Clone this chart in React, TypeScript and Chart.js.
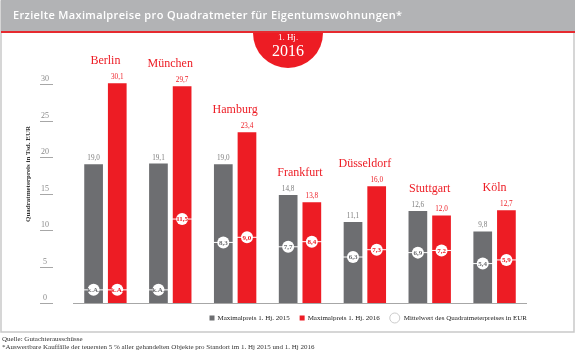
import React, { useEffect, useRef } from "react";
import { Chart, registerables } from "chart.js";

Chart.register(...registerables);

const cities = ["Berlin", "München", "Hamburg", "Frankfurt", "Düsseldorf", "Stuttgart", "Köln"];
const max2015: number[] = [19.0, 19.1, 19.0, 14.8, 11.1, 12.6, 9.8];
const max2016: number[] = [30.1, 29.7, 23.4, 13.8, 16.0, 12.0, 12.7];
const mean2015: (number | null)[] = [null, null, 8.3, 7.7, 6.3, 6.9, 5.4];
const mean2016: (number | null)[] = [null, 11.5, 9.0, 8.4, 7.3, 7.2, 5.9];
const yTicks: number[] = [0, 5, 10, 15, 20, 25, 30];
const seriesLabels = ["Maximalpreis 1. Hj. 2015", "Maximalpreis 1. Hj. 2016"];
const meanLabel = "Mittelwert des Quadratmeterpreises in EUR";
const naLabel = "k.A.";
const naValue = 1.8;
const titleText = "Erzielte Maximalpreise pro Quadratmeter für Eigentumswohnungen*";
const yTitle = "Quadratmeterpreis in Tsd. EUR";
const badgeTop = "1. Hj.";
const badgeYear = "2016";
const footer1 = "Quelle: Gutachterausschüsse";
const footer2 = "*Auswertbare Kauffälle der teuersten 5 % aller gehandelten Objekte pro Standort im 1. Hj 2015 und 1. Hj 2016";

const GREY = "#6d6e71";
const RED = "#ed1c24";
const SERIF = "'Liberation Serif', 'DejaVu Serif', serif";
const SANS = "'Open Sans', 'DejaVu Sans', sans-serif";

const fmt = (v: number) => v.toFixed(1).replace(".", ",");

const decorPlugin = {
  id: "decor",
  beforeDraw(chart: any) {
    const ctx = chart.ctx;
    const W = chart.width;
    ctx.save();
    ctx.fillStyle = "#ffffff";
    ctx.fillRect(0, 0, W, chart.height);
    // frame
    ctx.strokeStyle = "#c9c9c9";
    ctx.lineWidth = 1.5;
    ctx.strokeRect(1, 1, 573, 331);
    // badge
    const bx = 288;
    ctx.fillStyle = RED;
    ctx.beginPath();
    ctx.arc(bx, 33, 35, 0, Math.PI * 2);
    ctx.fill();
    // header band
    ctx.fillStyle = "#b2b3b5";
    ctx.fillRect(1, 0, 574, 31);
    ctx.fillStyle = "#e62a2f";
    ctx.fillRect(1, 31, 574, 2);
    ctx.fillStyle = "#ffffff";
    ctx.font = `600 11px ${SANS}`;
    ctx.textBaseline = "middle";
    ctx.textAlign = "left";
    try { (ctx as any).letterSpacing = "0.35px"; } catch (e) {}
    ctx.fillText(titleText, 13, 16);
    try { (ctx as any).letterSpacing = "0px"; } catch (e) {}
    // badge text
    ctx.textAlign = "center";
    ctx.font = `9px ${SERIF}`;
    ctx.fillText(badgeTop, bx, 38);
    ctx.font = `16px ${SERIF}`;
    ctx.fillText(badgeYear, bx, 52);
    ctx.restore();
  },
  afterDatasetsDraw(chart: any) {
    const ctx = chart.ctx;
    const y = chart.scales.y;
    const area = chart.chartArea;
    ctx.save();
    // baseline
    ctx.strokeStyle = "#a7a7a7";
    ctx.lineWidth = 1;
    ctx.beginPath();
    ctx.moveTo(area.left, Math.round(y.getPixelForValue(0)) + 0.5);
    ctx.lineTo(area.right, Math.round(y.getPixelForValue(0)) + 0.5);
    ctx.stroke();
    // y ticks
    ctx.font = `8px ${SERIF}`;
    ctx.textAlign = "center";
    ctx.textBaseline = "alphabetic";
    yTicks.forEach((t) => {
      const py = Math.round(y.getPixelForValue(t)) + 0.5;
      ctx.strokeStyle = "#a7a7a7";
      ctx.beginPath();
      ctx.moveTo(40, py);
      ctx.lineTo(53, py);
      ctx.stroke();
      ctx.fillStyle = "#8a8a8a";
      ctx.fillText(String(t), 45, py - 4);
    });
    // y title
    ctx.save();
    ctx.translate(28.5, 174);
    ctx.rotate(-Math.PI / 2);
    ctx.font = `bold 7px ${SERIF}`;
    ctx.fillStyle = "#333333";
    ctx.textBaseline = "middle";
    ctx.textAlign = "center";
    ctx.fillText(yTitle, 0, 0);
    ctx.restore();

    const m0 = chart.getDatasetMeta(0);
    const m1 = chart.getDatasetMeta(1);
    const means = [mean2015, mean2016];
    const colors = [GREY, RED];
    const valColors = ["#7d7d7d", RED];
    [m0, m1].forEach((meta: any, di: number) => {
      meta.data.forEach((bar: any, i: number) => {
        const v = chart.data.datasets[di].data[i];
        // value label
        ctx.font = `7.2px ${SERIF}`;
        ctx.fillStyle = valColors[di];
        ctx.textAlign = "center";
        ctx.textBaseline = "alphabetic";
        ctx.fillText(fmt(v), bar.x, bar.y - 4);
        // mean marker
        const mv = means[di][i];
        const py = y.getPixelForValue(mv == null ? naValue : mv);
        const half = bar.width / 2;
        ctx.strokeStyle = "#ffffff";
        ctx.lineWidth = 1;
        ctx.beginPath();
        ctx.moveTo(bar.x - half - 2, py);
        ctx.lineTo(bar.x + half + 2, py);
        ctx.stroke();
        ctx.fillStyle = "#ffffff";
        ctx.beginPath();
        ctx.arc(bar.x, py, 6, 0, Math.PI * 2);
        ctx.fill();
        ctx.fillStyle = colors[di];
        ctx.font = `bold 7px ${SERIF}`;
        ctx.textBaseline = "middle";
        ctx.fillText(mv == null ? naLabel : fmt(mv), bar.x, py + 0.5);
      });
    });
    // city labels
    ctx.font = `12px ${SERIF}`;
    ctx.fillStyle = RED;
    ctx.textAlign = "center";
    ctx.textBaseline = "middle";
    cities.forEach((c, i) => {
      const b0 = m0.data[i];
      const b1 = m1.data[i];
      const top = Math.min(b0.y, b1.y);
      ctx.fillText(c, (b0.x + b1.x) / 2, top - 22);
    });
    ctx.restore();
  },
  afterDraw(chart: any) {
    const ctx = chart.ctx;
    ctx.save();
    // legend, right-aligned to chart area
    ctx.font = `7px ${SERIF}`;
    ctx.textBaseline = "middle";
    ctx.textAlign = "left";
    const ly = 318;
    let x = chart.chartArea.right;
    const items = [
      { label: seriesLabels[0], kind: "sq", color: GREY },
      { label: seriesLabels[1], kind: "sq", color: RED },
      { label: meanLabel, kind: "circ", color: "#cccccc" },
    ];
    const widths = items.map((it) => ctx.measureText(it.label).width);
    const gapItem = 10;
    let total = 0;
    items.forEach((it, i) => {
      total += (it.kind === "circ" ? 14 : 8) + widths[i];
      if (i < items.length - 1) total += gapItem;
    });
    x = x - total;
    items.forEach((it, i) => {
      if (it.kind === "sq") {
        ctx.fillStyle = it.color;
        ctx.fillRect(x, ly - 2.5, 5, 5);
        x += 8;
      } else {
        ctx.strokeStyle = it.color;
        ctx.lineWidth = 1;
        ctx.fillStyle = "#ffffff";
        ctx.beginPath();
        ctx.arc(x + 5, ly, 5, 0, Math.PI * 2);
        ctx.fill();
        ctx.stroke();
        x += 14;
      }
      ctx.fillStyle = "#222222";
      ctx.fillText(it.label, x, ly + 0.5);
      x += widths[i] + gapItem;
    });
    // footer
    ctx.fillStyle = "#333333";
    ctx.font = `7px ${SERIF}`;
    ctx.fillText(footer1, 2, 339);
    ctx.fillText(footer2, 2, 347);
    ctx.restore();
  },
};

export default function App() {
  const ref = useRef<HTMLCanvasElement | null>(null);
  useEffect(() => {
    if (!ref.current) return;
    const chart = new Chart(ref.current, {
      type: "bar",
      data: {
        labels: cities,
        datasets: [
          { label: seriesLabels[0], data: max2015, backgroundColor: GREY },
          { label: seriesLabels[1], data: max2016, backgroundColor: RED },
        ],
      },
      options: {
        responsive: false,
        animation: false,
        devicePixelRatio: 1,
        layout: { padding: { left: 73, right: 49, top: 47.5, bottom: 48 } },
        datasets: { bar: { categoryPercentage: 0.73, barPercentage: 0.79 } },
        scales: {
          x: { display: false },
          y: { display: false, min: 0, max: 35 },
        },
        plugins: { legend: { display: false }, tooltip: { enabled: false } },
      },
      plugins: [decorPlugin],
    } as any);
    return () => chart.destroy();
  }, []);
  return (
    <div style={{ position: "fixed", left: 0, top: 0, width: 576, height: 351, background: "#fff" }}>
      <canvas ref={ref} width={576} height={351} style={{ display: "block" }} />
    </div>
  );
}
